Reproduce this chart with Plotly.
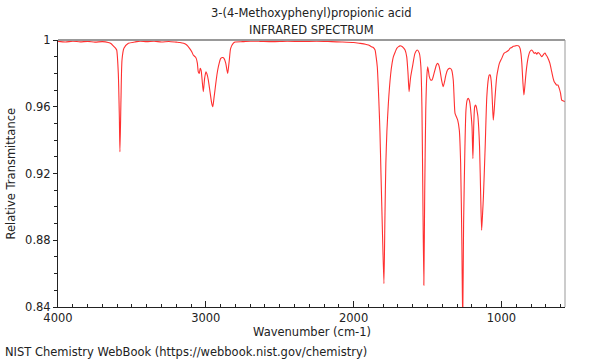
import plotly.graph_objects as go

title_line1 = "3-(4-Methoxyphenyl)propionic acid"
title_line2 = "INFRARED SPECTRUM"
x_title = "Wavenumber (cm-1)"
y_title = "Relative Transmittance"
footer = "NIST Chemistry WebBook (https://webbook.nist.gov/chemistry)"

x_tickvals = [4000, 3000, 2000, 1000]
x_ticktext = ["4000", "3000", "2000", "1000"]
y_tickvals = [0.84, 0.88, 0.92, 0.96, 1.0]
y_ticktext = ["0.84", "0.88", "0.92", "0.96", "1"]

wavenumber = [
    4000, 3950, 3900, 3850, 3800, 3750, 3700, 3660, 3640, 3626, 3610, 3603,
    3592, 3585, 3581, 3574, 3567, 3554, 3524, 3480, 3445, 3400, 3350, 3300,
    3250, 3200, 3175, 3150, 3129, 3110, 3095, 3085, 3073, 3065, 3057, 3051,
    3044, 3038, 3032, 3025, 3017, 3008, 2999, 2990, 2983, 2970, 2960, 2953,
    2945, 2938, 2925, 2915, 2899, 2885, 2877, 2865, 2857, 2852, 2846, 2841,
    2832, 2815, 2802, 2750, 2700, 2633, 2550, 2450, 2350, 2250, 2150, 2080,
    2000, 1957, 1920, 1900, 1880, 1867, 1855, 1848, 1840, 1830, 1822, 1815,
    1805, 1795, 1788, 1782, 1775, 1765, 1750, 1740, 1731, 1718, 1708, 1696,
    1686, 1675, 1664, 1652, 1641, 1632, 1625, 1619, 1614, 1600, 1585, 1569,
    1555, 1545, 1538, 1532, 1525, 1519, 1512, 1505, 1499, 1493, 1488, 1479,
    1470, 1465, 1450, 1440, 1432, 1424, 1416, 1405, 1394, 1385, 1376, 1365,
    1353, 1345, 1337, 1326, 1320, 1314, 1305, 1296, 1285, 1276, 1268, 1262,
    1256, 1247, 1240, 1232, 1225, 1218, 1213, 1205, 1199, 1193, 1187, 1181,
    1175, 1170, 1164, 1159, 1148, 1140, 1134, 1127, 1122, 1110, 1099, 1088,
    1082, 1076, 1070, 1065, 1060, 1055, 1049, 1043, 1032, 1022, 1014, 998,
    983, 965, 950, 942, 930, 920, 905, 893, 882, 874, 868, 862,
    855, 848, 842, 834, 826, 818, 808, 795, 786, 778, 770, 761,
    753, 744, 736, 728, 718, 710, 705, 698, 690, 680, 672, 660,
    650, 643, 635, 627, 618, 609, 600, 592, 580, 570,
]

transmittance = [
    0.9992, 0.9988, 0.9993, 0.9989, 0.9992, 0.9987, 0.9990, 0.9985, 0.9978, 0.9965, 0.9950, 0.994,
    0.980, 0.954, 0.933, 0.964, 0.988, 0.995, 0.998, 0.9988, 0.9993, 0.9990, 0.9993, 0.9988,
    0.9991, 0.9987, 0.9985, 0.998, 0.997, 0.995, 0.993, 0.991, 0.990, 0.989, 0.986, 0.981,
    0.980, 0.983, 0.982, 0.976, 0.969, 0.977, 0.981, 0.979, 0.976, 0.968, 0.962, 0.960,
    0.965, 0.970, 0.979, 0.984, 0.989, 0.9895, 0.989, 0.986, 0.982, 0.980, 0.984, 0.988,
    0.995, 0.998, 0.9988, 0.9990, 0.9993, 0.9992, 0.9990, 0.9993, 0.9991, 0.9993, 0.9990, 0.9988,
    0.9985, 0.998, 0.9975, 0.997, 0.996, 0.9955, 0.994, 0.990, 0.984, 0.965, 0.945, 0.920,
    0.885, 0.854, 0.895, 0.926, 0.945, 0.962, 0.979, 0.986, 0.990, 0.993, 0.995, 0.996,
    0.9965, 0.9963, 0.9955, 0.994, 0.990, 0.980, 0.969, 0.974, 0.978, 0.985, 0.992, 0.994,
    0.992, 0.984, 0.960, 0.910, 0.853, 0.910, 0.958, 0.978, 0.984, 0.981, 0.978, 0.976,
    0.976, 0.977, 0.982, 0.985, 0.986, 0.985, 0.982, 0.976, 0.972, 0.975, 0.979, 0.982,
    0.983, 0.983, 0.982, 0.976, 0.965, 0.956, 0.954, 0.952, 0.946, 0.926, 0.880, 0.830,
    0.890, 0.936, 0.958, 0.964, 0.965, 0.964, 0.962, 0.955, 0.948, 0.929, 0.950, 0.960,
    0.961, 0.960, 0.957, 0.954, 0.936, 0.905, 0.886, 0.897, 0.906, 0.936, 0.966, 0.977,
    0.979, 0.979, 0.976, 0.970, 0.960, 0.952, 0.958, 0.966, 0.978, 0.983, 0.986, 0.989,
    0.992, 0.993, 0.994, 0.995, 0.9955, 0.9962, 0.9965, 0.9967, 0.9963, 0.995, 0.992, 0.986,
    0.975, 0.967, 0.972, 0.980, 0.986, 0.990, 0.993, 0.994, 0.993, 0.992, 0.9925, 0.9915,
    0.9925, 0.992, 0.991, 0.990, 0.991, 0.992, 0.9922, 0.991, 0.990, 0.988, 0.986, 0.981,
    0.977, 0.975, 0.974, 0.973, 0.973, 0.971, 0.968, 0.964, 0.9635, 0.963,
]

FONT = "DejaVu Sans"
FS = 11.5
TXT = "#222222"

fig = go.Figure()
fig.add_trace(go.Scatter(
    x=wavenumber, y=transmittance, mode="lines",
    line=dict(color="#ff3030", width=1.1, shape="spline", smoothing=0.6),
    hoverinfo="skip", showlegend=False,
))

fig.update_layout(
    width=600, height=360,
    margin=dict(l=58, r=35, t=40, b=53),
    paper_bgcolor="white", plot_bgcolor="white",
    font=dict(family=FONT, size=FS, color=TXT),
    xaxis=dict(
        range=[4000, 570], showgrid=False, zeroline=False, automargin=False,
        showline=True, linecolor=TXT, linewidth=1,
        tickvals=x_tickvals, ticktext=x_ticktext,
        ticks="inside", ticklen=6, tickcolor=TXT, tickwidth=1,
        minor=dict(dtick=100, tick0=0, ticks="inside", ticklen=3, tickcolor=TXT, tickwidth=1, showgrid=False),
        tickfont=dict(family=FONT, size=FS, color=TXT),
    ),
    yaxis=dict(
        range=[0.84, 1.0], showgrid=False, zeroline=False, automargin=False,
        showline=True, linecolor=TXT, linewidth=1,
        tickvals=y_tickvals, ticktext=y_ticktext,
        ticks="outside", ticklen=4, tickcolor=TXT, tickwidth=1,
        minor=dict(dtick=0.01, tick0=0.84, ticks="outside", ticklen=3, tickcolor=TXT, tickwidth=1, showgrid=False),
        tickfont=dict(family=FONT, size=FS, color=TXT),
    ),
    shapes=[
        dict(type="line", xref="paper", yref="paper", x0=0, x1=1, y0=1, y1=1,
             line=dict(color="#999999", width=2)),
        dict(type="line", xref="paper", yref="paper", x0=1, x1=1, y0=0, y1=1,
             line=dict(color="#999999", width=1)),
    ],
    annotations=[
        dict(text=title_line1, xref="paper", yref="paper", x=0.5, y=1, yshift=27,
             showarrow=False, xanchor="center", yanchor="middle",
             font=dict(family=FONT, size=FS, color=TXT)),
        dict(text=title_line2, xref="paper", yref="paper", x=0.5, y=1, yshift=10,
             showarrow=False, xanchor="center", yanchor="middle",
             font=dict(family=FONT, size=FS, color=TXT)),
        dict(text=x_title, xref="paper", yref="paper", x=0.5, y=0, yshift=-25,
             showarrow=False, xanchor="center", yanchor="middle",
             font=dict(family=FONT, size=FS, color=TXT)),
        dict(text=y_title, xref="paper", yref="paper", x=0, y=0.5, xshift=-48,
             textangle=-90, showarrow=False, xanchor="center", yanchor="middle",
             font=dict(family=FONT, size=FS, color=TXT)),
        dict(text=footer, xref="paper", yref="paper", x=0, y=0, xshift=-55, yshift=-45,
             showarrow=False, xanchor="left", yanchor="middle",
             font=dict(family=FONT, size=FS, color=TXT)),
    ],
)

fig.write_html("out.html", config={"displayModeBar": False},
               post_script="document.body.style.margin='0';")
